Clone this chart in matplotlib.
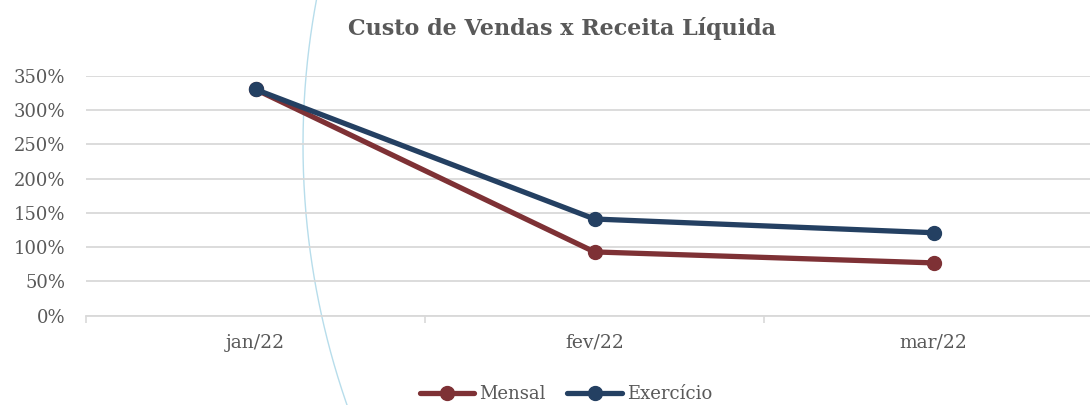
import numpy as np
import matplotlib
matplotlib.use("Agg")
import matplotlib.pyplot as plt
from matplotlib.lines import Line2D
from matplotlib.ticker import FixedLocator, FuncFormatter

categories = ["jan/22", "fev/22", "mar/22"]
mensal = [3.30, 0.93, 0.77]
exercicio = [3.30, 1.41, 1.21]
yticks = [0, 0.5, 1.0, 1.5, 2.0, 2.5, 3.0, 3.5]
title = "Custo de Vendas x Receita Líquida"

FONT = ["DejaVu Serif"]
GRAY = "#595959"
RED = "#7E3135"
BLUE = "#244062"
W, H = 1090, 405

fig = plt.figure(figsize=(W / 100, H / 100), dpi=100)
fig.patch.set_facecolor("white")

# decorative arc (figure pixel coordinates, y from top)
cx, cy, R = 1093, 145, 790
ys = np.linspace(-5, 410, 300)
xs = cx - np.sqrt(R**2 - (ys - cy) ** 2)
arc = Line2D(xs / W, 1 - ys / H, transform=fig.transFigure, color="#B7DDEB",
             lw=1.0, zorder=0.5)
fig.add_artist(arc)

left, right = 86, 1103
ax = fig.add_axes([left / W, (H - 315.7) / H, (right - left) / W, 240 / H], zorder=1)
ax.set_facecolor("none")

x = np.arange(len(categories))
ax.plot(x, mensal, color=RED, lw=3.8, marker="o", ms=10, label="Mensal",
        solid_capstyle="round", zorder=3)
ax.plot(x, exercicio, color=BLUE, lw=3.8, marker="o", ms=10, label="Exercício",
        solid_capstyle="round", zorder=4)

ax.set_xlim(-0.5, len(categories) - 0.5)
ax.set_ylim(0, 3.5)
ax.set_yticks(yticks)
ax.yaxis.set_major_formatter(FuncFormatter(lambda v, p: f"{v*100:.0f}%"))
ax.grid(axis="y", color="#D9D9D9", lw=1.3, zorder=0)
ax.set_axisbelow(True)

ax.set_xticks(x)
ax.set_xticklabels(categories)
ax.xaxis.set_minor_locator(FixedLocator(np.arange(-0.5, len(categories), 1.0)))
ax.tick_params(axis="x", which="major", length=0, pad=13, labelsize=13.5, labelcolor=GRAY)
ax.tick_params(axis="x", which="minor", length=5, width=1.2, color="#D9D9D9")
ax.tick_params(axis="y", length=0, pad=15, labelsize=13, labelcolor=GRAY)
for lab in ax.get_xticklabels() + ax.get_yticklabels():
    lab.set_family(FONT)

for s in ["top", "right", "left"]:
    ax.spines[s].set_visible(False)
ax.spines["bottom"].set_color("#D9D9D9")
ax.spines["bottom"].set_linewidth(1.3)

fig.text(562 / W, 1 - 29 / H, title, ha="center", va="center", fontsize=16,
         fontweight="bold", color=GRAY, family=FONT)

leg = fig.legend(loc="center", bbox_to_anchor=(566 / W, 1 - 394 / H), ncol=2,
                 frameon=False, handlelength=3.0, handletextpad=0.3,
                 columnspacing=1.2, prop={"family": FONT, "size": 13})
for t in leg.get_texts():
    t.set_color(GRAY)

fig.savefig("out.png", dpi=100)
